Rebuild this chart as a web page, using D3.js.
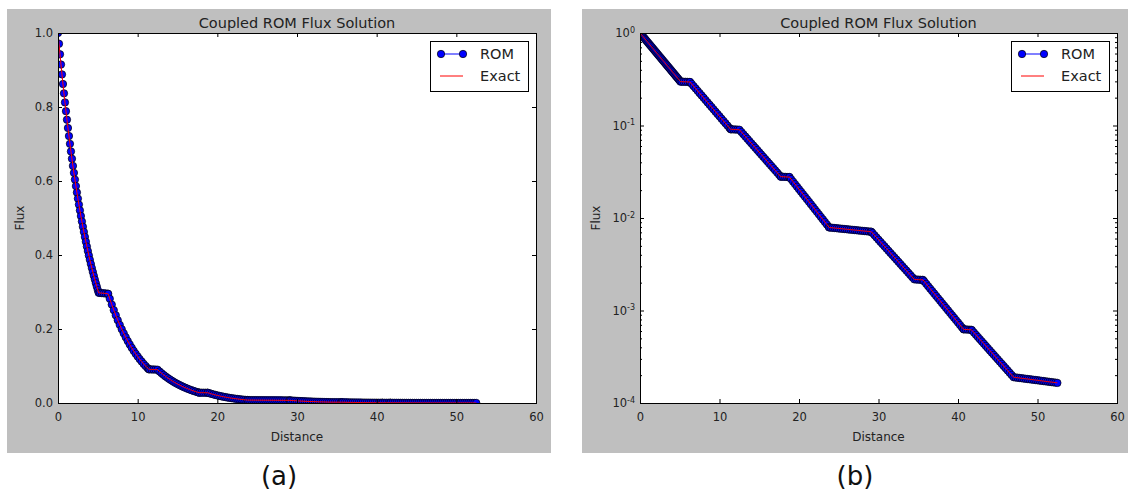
<!DOCTYPE html>
<html>
<head>
<meta charset="utf-8">
<script src="https://cdn.jsdelivr.net/npm/d3@7"></script>
<style>
  html, body { margin: 0; padding: 0; background: #ffffff; }
  svg { display: block; font-family: "DejaVu Sans", "Liberation Sans", sans-serif; }
</style>
</head>
<body>
<svg id="fig" width="1128" height="490"></svg>
<script>
// Distance along the slab (mesh points of the solution)
const distance = [
  0, 0.125, 0.25, 0.375, 0.5, 0.625, 0.75, 0.875, 1, 1.125, 1.25, 1.375, 1.5,
  1.625, 1.75, 1.875, 2, 2.125, 2.25, 2.375, 2.5, 2.625, 2.75, 2.875, 3,
  3.125, 3.25, 3.375, 3.5, 3.625, 3.75, 3.875, 4, 4.125, 4.25, 4.375, 4.5,
  4.625, 4.75, 4.875, 5, 5.1,
  5.25, 5.5, 5.75, 6, 6.25, 6.3,
  6.5, 6.75, 7, 7.25, 7.5, 7.75, 8, 8.25, 8.5, 8.75, 9, 9.25, 9.5, 9.75, 10,
  10.25, 10.5, 10.75, 11, 11.25, 11.4,
  11.5, 11.75, 12, 12.25, 12.5,
  12.75, 13, 13.25, 13.5, 13.75, 14, 14.25, 14.5, 14.75, 15, 15.25, 15.5, 15.75,
  16, 16.25, 16.5, 16.75, 17, 17.25, 17.5, 17.7,
  17.75, 18, 18.25, 18.5, 18.75, 18.8,
  19, 19.25, 19.5, 19.75, 20, 20.25, 20.5, 20.75, 21, 21.25, 21.5, 21.75, 22,
  22.25, 22.5, 22.75, 23, 23.25, 23.5, 23.75, 23.8,
  24, 24.25, 24.5, 24.75, 25, 25.25, 25.5, 25.75, 26, 26.25, 26.5, 26.75, 27,
  27.25, 27.5, 27.75, 28, 28.25, 28.5, 28.75, 29, 29.1,
  29.25, 29.5, 29.75, 30, 30.25, 30.5, 30.75, 31, 31.25, 31.5, 31.75, 32, 32.25,
  32.5, 32.75, 33, 33.25, 33.5, 33.75, 34, 34.25, 34.5,
  34.75, 35, 35.25, 35.5, 35.6,
  35.75, 36, 36.25, 36.5, 36.75, 37, 37.25, 37.5, 37.75, 38, 38.25, 38.5, 38.75,
  39, 39.25, 39.5, 39.75, 40, 40.25, 40.5, 40.7,
  40.75, 41, 41.25, 41.5, 41.7,
  41.75, 42, 42.25, 42.5, 42.75, 43, 43.25, 43.5, 43.75, 44, 44.25, 44.5, 44.75,
  45, 45.25, 45.5, 45.75, 46, 46.25, 46.5, 46.75, 47,
  47.25, 47.5, 47.75, 48, 48.25, 48.5, 48.75, 49, 49.25, 49.5, 49.75, 50, 50.25,
  50.5, 50.75, 51, 51.25, 51.5, 51.75, 52, 52.25, 52.5
];

// Scalar flux computed by the reduced-order model
const romFlux = [
  1.0, 0.9708, 0.9424, 0.9148, 0.8881, 0.8621, 0.8369, 0.8124, 0.7887, 0.7656, 0.7432, 0.7215, 0.7004,
  0.6799, 0.6601, 0.6408, 0.6220, 0.6038, 0.5862, 0.5690, 0.5524, 0.5362, 0.5206, 0.5053, 0.4906,
  0.4762, 0.4623, 0.4488, 0.4357, 0.4229, 0.4106, 0.3985, 0.3869, 0.3756, 0.3646, 0.3539, 0.3436,
  0.3335, 0.3238, 0.3143, 0.3051, 0.2980,
  0.2975, 0.2970, 0.2965, 0.2960, 0.2952, 0.2950,
  0.2817, 0.2659, 0.2510, 0.2370, 0.2237, 0.2112, 0.1993, 0.1882, 0.1776, 0.1677, 0.1583, 0.1494, 0.1410, 0.1331, 0.1257,
  0.1186, 0.1120, 0.1057, 0.0998, 0.0942, 0.0910,
  0.0909, 0.0907, 0.0905, 0.0903, 0.0900,
  0.08509, 0.08045, 0.07606, 0.07191, 0.06798, 0.06427, 0.06076, 0.05745, 0.05431, 0.05135, 0.04854, 0.04589, 0.04339,
  0.04102, 0.03878, 0.03667, 0.03467, 0.03277, 0.03098, 0.02929, 0.02800,
  0.02798, 0.02790, 0.02783, 0.02776, 0.02771, 0.02770,
  0.02634, 0.02474, 0.02324, 0.02182, 0.02049, 0.01925, 0.01808, 0.01698, 0.01595, 0.01498, 0.01407, 0.01321, 0.01241,
  0.01166, 0.01095, 0.01028, 0.00966, 0.00907, 0.00852, 0.00800, 0.00790,
  0.007868, 0.007829, 0.007790, 0.007751, 0.007712, 0.007673, 0.007635, 0.007596, 0.007558, 0.007520, 0.007483, 0.007445, 0.007408,
  0.007371, 0.007334, 0.007297, 0.007260, 0.007224, 0.007188, 0.007152, 0.007116, 0.007100,
  0.006870, 0.006503, 0.006156, 0.005827, 0.005516, 0.005222, 0.004943, 0.004679, 0.004429, 0.004193, 0.003969, 0.003757, 0.003557,
  0.003367, 0.003187, 0.003017, 0.002856, 0.002703, 0.002559, 0.002423, 0.002293, 0.002171,
  0.002163, 0.002156, 0.002149, 0.002143, 0.002140,
  0.002064, 0.001943, 0.001830, 0.001723, 0.001622, 0.001527, 0.001438, 0.001354, 0.001275, 0.001200, 0.001130, 0.001064, 0.001002,
  0.0009432, 0.0008880, 0.0008361, 0.0007872, 0.0007412, 0.0006978, 0.0006570, 0.0006260,
  0.0006258, 0.0006238, 0.0006218, 0.0006198, 0.0006180,
  0.0006112, 0.0005781, 0.0005468, 0.0005172, 0.0004892, 0.0004627, 0.0004377, 0.0004140, 0.0003916, 0.0003704, 0.0003503, 0.0003314, 0.0003134,
  0.0002965, 0.0002804, 0.0002652, 0.0002509, 0.0002373, 0.0002245, 0.0002123, 0.0002008, 0.0001900,
  0.0001888, 0.0001876, 0.0001864, 0.0001852, 0.0001840, 0.0001828, 0.0001817, 0.0001805, 0.0001794, 0.0001782, 0.0001771, 0.0001760, 0.0001748,
  0.0001737, 0.0001726, 0.0001715, 0.0001704, 0.0001693, 0.0001682, 0.0001672, 0.0001661, 0.0001650
];

// Reference (exact) solution on the same mesh; it coincides with the ROM result
const exactFlux = romFlux.slice();

const seriesNames = ["ROM", "Exact"];
const chartTitle = "Coupled ROM Flux Solution";
const xLabel = "Distance";
const yLabel = "Flux";
const xTicks = [0, 10, 20, 30, 40, 50, 60];
const linearTicks = [0.0, 0.2, 0.4, 0.6, 0.8, 1.0];
const logTicks = [1e-4, 1e-3, 1e-2, 1e-1, 1];
const panelTags = ["(a)", "(b)"];

const svg = d3.select("#fig");

const panels = [
  { key: "lin", type: "linear", bg: [7, 9, 544, 444], plot: [58, 33, 478, 370], tag: panelTags[0], ylabX: -38 },
  { key: "log", type: "log",    bg: [582, 9, 546, 444], plot: [640, 33, 477, 370], tag: panelTags[1], ylabX: -44 }
];

const BLUE = "#0000ff";
const RED = "#ff0000";

function styleAxis(sel) {
  sel.select(".domain").remove();
  sel.selectAll(".tick line").attr("stroke", "#000").attr("stroke-width", 1);
  sel.selectAll(".tick text").attr("fill", "#222").attr("font-size", 11.5)
    .attr("font-family", "DejaVu Sans, sans-serif");
}

function drawPanel(p) {
  const [bx, by, bw, bh] = p.bg;
  svg.append("rect").attr("x", bx).attr("y", by).attr("width", bw).attr("height", bh)
    .attr("fill", "#bfbfbf");

  const [px, py, w, h] = p.plot;
  const g = svg.append("g").attr("transform", `translate(${px},${py})`);
  g.append("rect").attr("width", w).attr("height", h).attr("fill", "#ffffff");

  const clipId = "clip-" + p.key;
  g.append("clipPath").attr("id", clipId)
    .append("rect").attr("width", w).attr("height", h);

  const x = d3.scaleLinear().domain([0, 60]).range([0, w]);
  const y = p.type === "log"
    ? d3.scaleLog().domain([1e-4, 1]).range([h, 0])
    : d3.scaleLinear().domain([0, 1]).range([h, 0]);

  const rom = distance.map((d, i) => ({ x: d, y: romFlux[i] }));
  const exact = distance.map((d, i) => ({ x: d, y: exactFlux[i] }));
  const line = d3.line().x(d => x(d.x)).y(d => y(d.y));

  const marks = g.append("g").attr("clip-path", `url(#${clipId})`);
  marks.append("path").datum(rom).attr("d", line)
    .attr("fill", "none").attr("stroke", BLUE).attr("stroke-width", 1);
  marks.append("g").selectAll("circle").data(rom).join("circle")
    .attr("cx", d => x(d.x)).attr("cy", d => y(d.y)).attr("r", 3.7)
    .attr("fill", BLUE).attr("stroke", "#000").attr("stroke-width", 0.7);
  marks.append("path").datum(exact).attr("d", line)
    .attr("fill", "none").attr("stroke", RED).attr("stroke-width", 1);

  // axes: ticks point inward on all four sides
  const xb = g.append("g").attr("transform", `translate(0,${h})`)
    .call(d3.axisBottom(x).tickValues(xTicks).tickSize(-4).tickPadding(10).tickFormat(d3.format("d")));
  styleAxis(xb);
  const xt = g.append("g")
    .call(d3.axisTop(x).tickValues(xTicks).tickSize(-4).tickFormat(""));
  styleAxis(xt);

  if (p.type === "log") {
    const minor = [];
    logTicks.slice(0, -1).forEach(t => { for (let k = 2; k <= 9; k++) minor.push(t * k); });
    const yl = g.append("g").call(d3.axisLeft(y).tickValues(logTicks).tickSize(-4).tickFormat(""));
    styleAxis(yl);
    const yr = g.append("g").attr("transform", `translate(${w},0)`)
      .call(d3.axisRight(y).tickValues(logTicks).tickSize(-4).tickFormat(""));
    styleAxis(yr);
    const ylm = g.append("g").call(d3.axisLeft(y).tickValues(minor).tickSize(-2).tickFormat(""));
    styleAxis(ylm);
    const yrm = g.append("g").attr("transform", `translate(${w},0)`)
      .call(d3.axisRight(y).tickValues(minor).tickSize(-2).tickFormat(""));
    styleAxis(yrm);
    // decade labels written as powers of ten
    const lab = g.append("g");
    logTicks.forEach(t => {
      const e = Math.round(Math.log10(t));
      const txt = lab.append("text").attr("x", -5).attr("y", y(t)).attr("dy", "0.36em")
        .attr("text-anchor", "end").attr("fill", "#222").attr("font-size", 11.5);
      txt.append("tspan").text("10");
      txt.append("tspan").attr("dy", "-0.55em").attr("font-size", 8).text(String(e));
    });
  } else {
    const yl = g.append("g")
      .call(d3.axisLeft(y).tickValues(linearTicks).tickSize(-4).tickPadding(5).tickFormat(d3.format(".1f")));
    styleAxis(yl);
    const yr = g.append("g").attr("transform", `translate(${w},0)`)
      .call(d3.axisRight(y).tickValues(linearTicks).tickSize(-4).tickFormat(""));
    styleAxis(yr);
  }

  // frame
  g.append("rect").attr("x", 0.5).attr("y", 0.5).attr("width", w).attr("height", h)
    .attr("fill", "none").attr("stroke", "#000").attr("stroke-width", 1);

  // title and axis labels
  g.append("text").attr("x", w / 2).attr("y", -5).attr("text-anchor", "middle")
    .attr("font-size", 14.5).attr("fill", "#222").text(chartTitle);
  g.append("text").attr("x", w / 2).attr("y", h + 38).attr("text-anchor", "middle")
    .attr("font-size", 12).attr("fill", "#222").text(xLabel);
  g.append("text").attr("transform", `translate(${p.ylabX},${h / 2}) rotate(-90)`)
    .attr("text-anchor", "middle").attr("dy", "0.35em")
    .attr("font-size", 12).attr("fill", "#222").text(yLabel);

  // legend
  const lw = 98, lh = 50;
  const lg = g.append("g").attr("transform", `translate(${w - 8 - lw},8)`);
  lg.append("rect").attr("x", 0.5).attr("y", 0.5).attr("width", lw).attr("height", lh)
    .attr("fill", "#fff").attr("stroke", "#000").attr("stroke-width", 1);
  lg.append("line").attr("x1", 11).attr("x2", 33).attr("y1", 13).attr("y2", 13)
    .attr("stroke", BLUE).attr("stroke-width", 1);
  [11, 33].forEach(cx => lg.append("circle").attr("cx", cx).attr("cy", 13).attr("r", 3.7)
    .attr("fill", BLUE).attr("stroke", "#000").attr("stroke-width", 0.7));
  lg.append("text").attr("x", 50).attr("y", 13).attr("dy", "0.36em")
    .attr("font-size", 14.5).attr("fill", "#222").text(seriesNames[0]);
  lg.append("line").attr("x1", 10).attr("x2", 33).attr("y1", 35).attr("y2", 35)
    .attr("stroke", RED).attr("stroke-width", 1);
  lg.append("text").attr("x", 50).attr("y", 35).attr("dy", "0.36em")
    .attr("font-size", 14.5).attr("fill", "#222").text(seriesNames[1]);

  // panel tag under the figure
  svg.append("text").attr("x", bx + bw / 2).attr("y", 476).attr("dy", "0.36em")
    .attr("text-anchor", "middle").attr("font-size", 26).attr("fill", "#111").text(p.tag);
}

panels.forEach(drawPanel);
</script>
</body>
</html>
